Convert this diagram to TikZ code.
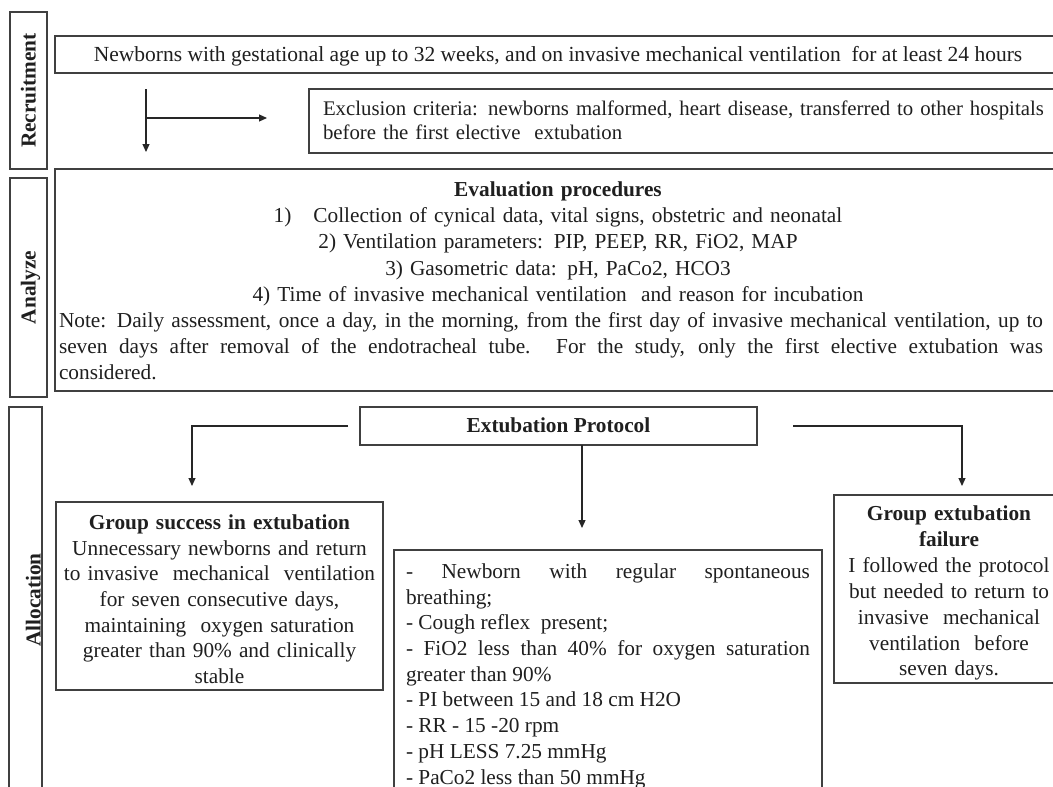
\documentclass[tikz,border=0pt]{standalone}
\usepackage{fontspec}
\setmainfont{Liberation Serif}
\usetikzlibrary{arrows.meta}
\begin{document}
\begin{tikzpicture}[x=1pt,y=-1pt,
  box/.style={draw=black!75, line width=1.2pt, rectangle, inner sep=0pt, outer sep=0pt, anchor=north west},
  txt/.style={inner sep=0pt, outer sep=0pt, text=black!88, font=\fontsize{21.3}{26.2}\selectfont},
  lbl/.style={inner sep=0pt, outer sep=0pt, text=black!88, font=\fontsize{21.3}{26}\selectfont\bfseries, rotate=90, anchor=base},
  conn/.style={draw=black!85, line width=1.2pt},
  arr/.style={conn, -{Triangle[length=8pt,width=7pt]}}
]
\useasboundingbox (0,0) rectangle (1053,787);
\clip (0,0) rectangle (1053,787);
\fill[white] (0,0) rectangle (1053,787);

% section label boxes
\node[box, minimum width=37, minimum height=157] (recbox) at (10,12) {};
\node[box, minimum width=37, minimum height=219] (anabox) at (10,178) {};
\node[box, minimum width=33, minimum height=420] (allbox) at (9,407) {};
\node[lbl] (reclbl) at (35.5,90.5) {Recruitment};
\node[lbl] (analbl) at (35.5,287.5) {Analyze};
\node[lbl] (alllbl) at (40.5,600) {Allocation};

% recruitment
\node[box, minimum width=1006, minimum height=37] (newborns) at (55,36) {};
\node[txt, font=\fontsize{21.5}{26}\selectfont, anchor=base] (newbornstext) at (558,61.4) {Newborns with gestational age up to 32 weeks, and on invasive mechanical ventilation\ \ for at least 24 hours};
\node[box, minimum width=752, minimum height=64] (excl) at (309,89) {};
\node[txt, font=\fontsize{20.8}{24}\selectfont, text width=760pt, align=left, anchor=base west] (excltext) at (323,115.4) {Exclusion criteria: newborns malformed, heart disease, transferred to other hospitals\\ before the first elective\ \ extubation};

% analyze
\node[box, minimum width=1006, minimum height=222] (eval) at (55,169) {};
\node[txt, text width=1000pt, align=center, anchor=base] (evalhead) at (558,196.4) {\textbf{Evaluation procedures}\\ 1)\hspace{22pt}Collection of cynical data, vital signs, obstetric and neonatal\\ 2) Ventilation parameters: PIP, PEEP, RR, FiO2, MAP\hspace*{8pt}\\ 3) Gasometric data: pH, PaCo2, HCO3\hspace*{28pt}\\ 4) Time of invasive mechanical ventilation\ \ and reason for incubation};
\node[txt, text width=984pt, align=justify, anchor=base west] (evalnote) at (59,327.4) {Note: Daily assessment, once a day, in the morning, from the first day of invasive mechanical ventilation, up to\linebreak seven days after removal of the endotracheal tube. For the study, only the first elective extubation was\linebreak considered.};

% allocation
\node[box, minimum width=397, minimum height=38] (proto) at (360,407) {};
\node[txt, anchor=base] (prototext) at (558.5,432.4) {\textbf{Extubation Protocol}};

\node[box, minimum width=327, minimum height=188] (success) at (56,502) {};
\node[txt, font=\fontsize{21.3}{25.7}\selectfont, text width=330pt, align=center, anchor=base] (successtext) at (219.5,529.4) {\textbf{Group success in extubation}\\ Unnecessary newborns and return\\ to invasive\ \ mechanical\ \ ventilation\\ for seven consecutive days,\\ maintaining\ \ oxygen saturation\\ greater than 90\% and clinically\\ stable};

\node[box, minimum width=428, minimum height=270] (crit) at (394,550) {};
\node[txt, font=\fontsize{21.3}{25.7}\selectfont, text width=404pt, align=justify, anchor=base west] (crittext) at (406,578.4) {- Newborn with regular spontaneous\linebreak breathing;\\ - Cough reflex\ \ present;\\ - FiO2 less than 40\% for oxygen saturation\linebreak greater than 90\%\\ - PI between 15 and 18 cm H2O\\ - RR - 15 -20 rpm\\ - pH LESS 7.25 mmHg\\ - PaCo2 less than 50 mmHg};

\node[box, minimum width=229, minimum height=188] (fail) at (834,495) {};
\node[txt, font=\fontsize{21.3}{25.9}\selectfont, text width=230pt, align=center, anchor=base] (failtext) at (949,520.5) {\textbf{Group extubation}\\ \textbf{failure}\\ I followed the protocol\\ but needed to return to\\ invasive\ \ mechanical\\ ventilation\ \ before\\ seven days.};

% connectors
\coordinate (rx) at (146,0);
\coordinate (rmid) at (146,118);
\draw[arr, shorten <=16pt, shorten >=17pt] (rx |- newborns.south) -- (rx |- eval.north);
\draw[arr, shorten >=42pt] (rmid) -- (rmid -| excl.west);

\coordinate (lc) at (192,426);
\coordinate (cc) at (582,0);
\coordinate (rc) at (962,426);
\draw[arr, shorten <=12pt, shorten >=16pt] (proto.west) -- (lc) -- (lc |- success.north);
\draw[arr, shorten >=22pt] (cc |- proto.south) -- (cc |- crit.north);
\draw[arr, shorten <=36pt, shorten >=9pt] (proto.east) -- (rc) -- (rc |- fail.north);
\end{tikzpicture}
\end{document}
